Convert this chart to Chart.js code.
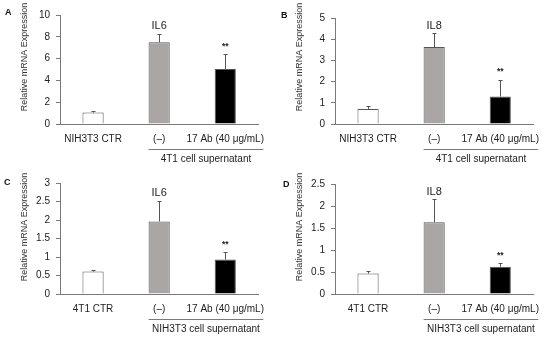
<!DOCTYPE html>
<html>
<head>
<meta charset="utf-8">
<script src="https://cdn.jsdelivr.net/npm/chart.js@4.4.0/dist/chart.umd.min.js"></script>
<style>
body { margin: 0; background: #fff; }
#wrap { position: relative; width: 550px; height: 339px; }
.panel { position: absolute; width: 275px; height: 170px; }
.letter { position: absolute; font: bold 9px "Liberation Sans", Arial, sans-serif; color: #111; }
</style>
</head>
<body>
<div id="wrap">
  <div class="panel" style="left:0;top:0"><canvas id="chartA" width="275" height="170"></canvas></div>
  <div class="panel" style="left:275px;top:0"><canvas id="chartB" width="275" height="170"></canvas></div>
  <div class="panel" style="left:0;top:170px"><canvas id="chartC" width="275" height="170"></canvas></div>
  <div class="panel" style="left:275px;top:170px"><canvas id="chartD" width="275" height="170"></canvas></div>
  <div class="letter" style="left:5px;top:7px">A</div>
  <div class="letter" style="left:281px;top:10px">B</div>
  <div class="letter" style="left:4px;top:177px">C</div>
  <div class="letter" style="left:283px;top:179px">D</div>
</div>
<script>
// categories
const labels4T1Sup = ['NIH3T3 CTR', '(–)', '17 Ab (40 μg/mL)'];
const labelsNIHSup = ['4T1 CTR', '(–)', '17 Ab (40 μg/mL)'];

// means and upper error (SD)
const meanA = [1.05, 7.5, 5.05];
const errA = [0.15, 0.75, 1.33];
const meanB = [0.71, 3.63, 1.3];
const errB = [0.12, 0.66, 0.79];
const meanC = [0.605, 1.96, 0.93];
const errC = [0.04, 0.55, 0.2];
const meanD = [0.466, 1.63, 0.62];
const errD = [0.05, 0.54, 0.075];

// y ticks
const ticksA = [0, 2, 4, 6, 8, 10];
const ticksB = [0, 1, 2, 3, 4, 5];
const ticksC = [0, 0.5, 1, 1.5, 2, 2.5, 3];
const ticksD = [0, 0.5, 1, 1.5, 2, 2.5];

const FONT = '"Liberation Sans", Arial, sans-serif';
const AXIS = '#7a7a7a';

const errorBars = {
    id: 'errorBars',
    afterDatasetsDraw(chart) {
        const ctx = chart.ctx;
        const ds = chart.data.datasets[0];
        const y = chart.scales.y;
        ctx.save();
        ctx.strokeStyle = '#555';
        ctx.lineWidth = 1;
        chart.getDatasetMeta(0).data.forEach((bar, i) => {
            const x = Math.round(bar.x) + 0.5;
            const top = Math.round(y.getPixelForValue(ds.data[i] + ds.errors[i])) + 0.5;
            ctx.beginPath();
            ctx.moveTo(x, bar.y);
            ctx.lineTo(x, top);
            ctx.moveTo(x - 2, top);
            ctx.lineTo(x + 2, top);
            ctx.stroke();
        });
        ctx.restore();
    }
};

const annotations = {
    id: 'annotations',
    afterDraw(chart, args, opts) {
        const ctx = chart.ctx;
        const ds = chart.data.datasets[0];
        const x = chart.scales.x;
        const y = chart.scales.y;
        const area = chart.chartArea;
        ctx.save();
        ctx.fillStyle = '#222';
        ctx.textAlign = 'center';
        ctx.textBaseline = 'middle';
        // y axis title, same spot in every panel
        ctx.save();
        ctx.translate(25, 57);
        ctx.rotate(-Math.PI / 2);
        ctx.font = '9px ' + FONT;
        ctx.fillStyle = '#333';
        ctx.fillText('Relative mRNA Expression', 0, 0);
        ctx.restore();
        // gene label over the untreated bar, ** over the antibody bar
        const top1 = y.getPixelForValue(ds.data[1] + ds.errors[1]);
        ctx.font = '11px ' + FONT;
        ctx.fillText(opts.gene, x.getPixelForValue(1), Math.max(area.top + 8, top1 - 8));
        const top2 = y.getPixelForValue(ds.data[2] + ds.errors[2]);
        ctx.font = 'bold 8.5px ' + FONT;
        ctx.fillText('**', x.getPixelForValue(2), top2 - 8);
        // bracket for the supernatant groups
        const barHalf = chart.getDatasetMeta(0).data[1].width / 2;
        const lineY = Math.round(area.bottom + 25) + 0.5;
        ctx.strokeStyle = AXIS;
        ctx.lineWidth = 1;
        ctx.beginPath();
        ctx.moveTo(x.getPixelForValue(1) - barHalf, lineY);
        ctx.lineTo(area.right + 5, lineY);
        ctx.stroke();
        ctx.font = '10px ' + FONT;
        ctx.fillText(opts.group, (x.getPixelForValue(1) - barHalf + area.right + 5) / 2, lineY + 10);
        ctx.restore();
    }
};

function makePanel(id, labels, means, errs, ticks, gene, group, top) {
    return new Chart(document.getElementById(id), {
        type: 'bar',
        data: {
            labels: labels,
            datasets: [{
                data: means,
                errors: errs,
                backgroundColor: ['#ffffff', '#aaa6a6', '#000000'],
                borderColor: '#555',
                borderWidth: 1,
                barPercentage: 0.32,
                categoryPercentage: 1
            }]
        },
        options: {
            responsive: false,
            animation: false,
            layout: { padding: { top: top, right: 12, left: 0, bottom: 0 } },
            plugins: {
                legend: { display: false },
                tooltip: { enabled: false },
                annotations: { gene: gene, group: group }
            },
            scales: {
                x: {
                    grid: { drawOnChartArea: false, drawTicks: false },
                    border: { color: AXIS },
                    ticks: { color: '#222', font: { family: FONT, size: 10 }, padding: 9, maxRotation: 0, autoSkip: false },
                    afterFit: s => { s.height = 46; }
                },
                y: {
                    min: ticks[0],
                    max: ticks[ticks.length - 1],
                    afterBuildTicks: s => { s.ticks = ticks.map(v => ({ value: v })); },
                    grid: { drawOnChartArea: false, drawTicks: true, tickLength: 4, color: AXIS },
                    border: { color: AXIS },
                    ticks: { color: '#222', font: { family: FONT, size: 10 }, padding: 6, callback: v => String(v) },
                    afterFit: s => { s.width = 60; }
                }
            }
        },
        plugins: [errorBars, annotations]
    });
}

makePanel('chartA', labels4T1Sup, meanA, errA, ticksA, 'IL6', '4T1 cell supernatant', 15);
makePanel('chartB', labels4T1Sup, meanB, errB, ticksB, 'IL8', '4T1 cell supernatant', 18);
makePanel('chartC', labelsNIHSup, meanC, errC, ticksC, 'IL6', 'NIH3T3 cell supernatant', 13);
makePanel('chartD', labelsNIHSup, meanD, errD, ticksD, 'IL8', 'NIH3T3 cell supernatant', 14);
</script>
</body>
</html>
